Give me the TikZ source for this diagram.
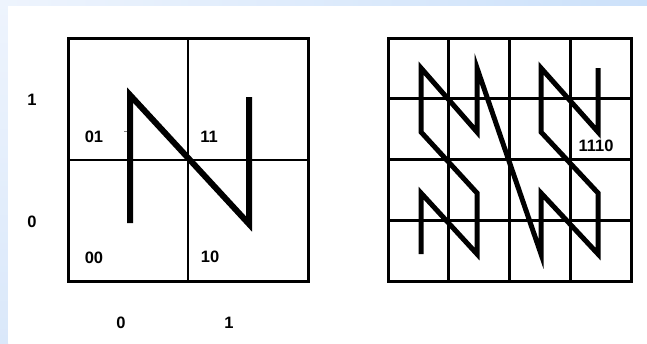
\documentclass[tikz,border=0pt]{standalone}
\usepackage{fontspec}
\setmainfont{Liberation Sans}
\usetikzlibrary{positioning}
\definecolor{edgeL}{HTML}{EEF4FD}
\definecolor{edgeR}{HTML}{CCE1FA}
\definecolor{edgeB}{HTML}{DAE8FA}

\begin{document}
\begin{tikzpicture}[x=1pt, y=-1pt,
    lbl/.style={font=\fontsize{16.5}{19}\selectfont\bfseries, inner sep=0pt},
    frame/.style={draw, line width=3pt},
    gridline/.style={draw, line width=2.8pt},
    zcurve/.style={draw, line width=6pt},
    zcurvefine/.style={draw, line width=5pt}
]
\useasboundingbox (0,0) rectangle (647,343);
\shade[left color=edgeL, right color=edgeR] (0,0) rectangle (647,6);
\shade[top color=edgeL, bottom color=edgeB] (0,0) rectangle (8,343);
\fill[white] (8,6) rectangle (647,343);

% 2x2 grid
\draw[gridline] (188,38) -- (188,281);
\draw[gridline] (68,160) -- (308,160);
\draw[frame] (68,38) rectangle (308,281);

\node[lbl] (q01) at (94,136.5) {01};
\node[lbl] (q11) at (209,136.5) {11};
\node[lbl] (q00) at (94,257.5) {00};
\node[lbl] (q10) at (210,257) {10};

\node[lbl] (ay1) at (32,100) {1};
\node[lbl] (ay0) at (32,222) {0};
\node[lbl] (ax0) at (121,323) {0};
\node[lbl] (ax1) at (229,323) {1};

\draw[gray, line width=1pt] (124,131.5) -- (128,131.5);
\draw[zcurve] (130,223) -- (130,95) -- (249,224) -- (249,97);

% 4x4 grid
\foreach \i in {1,2,3} {
  \draw[gridline] (388+60.75*\i,38) -- (388+60.75*\i,281);
  \draw[gridline] (388,38+60.75*\i) -- (631,38+60.75*\i);
}
\draw[frame] (388,38) rectangle (631,281);

\draw[zcurvefine] (421,254) -- (421,193) -- (477,254) -- (477,193)
  -- (421,132) -- (421,68) -- (477,132) -- (477,68)
  -- (541,254) -- (541,193) -- (598,254) -- (598,193)
  -- (541,132) -- (541,68) -- (598,132) -- (598,68);

\node[lbl] (q1110) at (596,146) {1110};
\end{tikzpicture}
\end{document}
